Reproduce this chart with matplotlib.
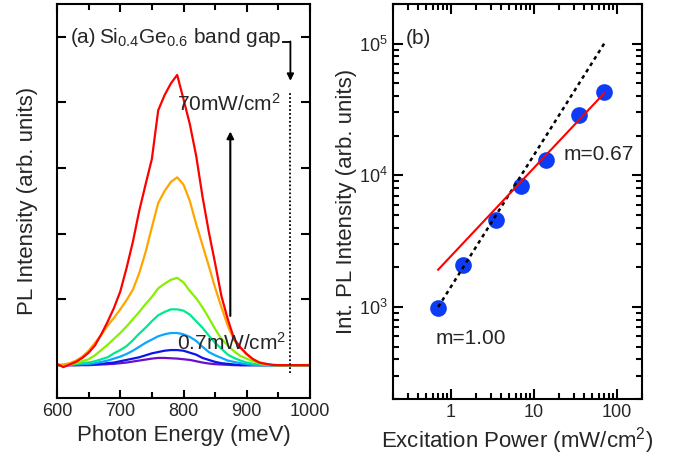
import matplotlib
matplotlib.use('Agg')
import matplotlib.pyplot as plt
from matplotlib.ticker import MultipleLocator, FormatStrFormatter, NullFormatter, LogLocator
import numpy as np

plt.rcParams['font.family'] = ['Liberation Sans', 'DejaVu Sans']
plt.rcParams['mathtext.fontset'] = 'custom'
plt.rcParams['mathtext.rm'] = 'Liberation Sans'
plt.rcParams['mathtext.it'] = 'Liberation Sans'
TXT = '#262626'

# ----------------- (a) PL spectra -----------------
energy = list(range(600, 1001, 10))  # meV

pl_70 = [0.02, -0.03, 0.01, 0.05, 0.11, 0.19, 0.30, 0.47, 0.66, 0.87,
         1.12, 1.48, 1.88, 2.35, 2.75, 3.14, 3.88, 4.11, 4.29, 4.42,
         4.05, 3.67, 3.19, 2.57, 2.03, 1.55, 1.05, 0.70, 0.40, 0.27,
         0.17, 0.09, 0.04, 0.02, 0.005, 0, 0, 0, 0, 0, 0]
pl_35 = [0.0, 0.01, 0.03, 0.07, 0.13, 0.22, 0.34, 0.46, 0.60, 0.72,
         0.85, 0.99, 1.15, 1.40, 1.72, 2.10, 2.47, 2.65, 2.79, 2.86,
         2.75, 2.50, 2.15, 1.83, 1.51, 1.18, 0.88, 0.60, 0.38, 0.26,
         0.16, 0.09, 0.04, 0.02, 0.005, 0, 0, 0, 0, 0, 0]
pl_14 = [0.0, 0.005, 0.01, 0.03, 0.06, 0.09, 0.15, 0.23, 0.31, 0.40,
         0.49, 0.59, 0.70, 0.81, 0.93, 1.04, 1.17, 1.24, 1.30, 1.33,
         1.26, 1.13, 1.02, 0.88, 0.72, 0.55, 0.40, 0.30, 0.21, 0.14,
         0.10, 0.06, 0.03, 0.01, 0, 0, 0, 0, 0, 0, 0]
pl_7 = [0.0, 0.0, 0.01, 0.02, 0.03, 0.04, 0.06, 0.09, 0.12, 0.18,
        0.23, 0.29, 0.38, 0.48, 0.57, 0.67, 0.76, 0.81, 0.85, 0.85,
        0.83, 0.77, 0.67, 0.57, 0.45, 0.34, 0.25, 0.16, 0.11, 0.07,
        0.04, 0.02, 0.01, 0, 0, 0, 0, 0, 0, 0, 0]
pl_3p5 = [0.0, 0.0, 0.005, 0.01, 0.015, 0.02, 0.03, 0.05, 0.07, 0.10,
          0.13, 0.17, 0.22, 0.28, 0.34, 0.39, 0.44, 0.47, 0.49, 0.49,
          0.47, 0.43, 0.37, 0.28, 0.20, 0.15, 0.11, 0.07, 0.05, 0.03,
          0.015, 0.005, 0, 0, 0, 0, 0, 0, 0, 0, 0]
pl_1p4 = [0.0, 0.0, 0.0, 0.0, 0.005, 0.01, 0.015, 0.02, 0.03, 0.04,
          0.06, 0.08, 0.10, 0.12, 0.15, 0.18, 0.20, 0.22, 0.23, 0.23,
          0.22, 0.19, 0.16, 0.11, 0.08, 0.05, 0.03, 0.02, 0.01, 0,
          0, 0, 0, 0, 0, 0, 0, 0, 0, 0, 0]
pl_0p7 = [0.0, 0.0, 0.0, 0.0, 0.0, 0.0, 0.005, 0.01, 0.015, 0.02,
          0.03, 0.04, 0.055, 0.07, 0.085, 0.10, 0.11, 0.11, 0.105, 0.10,
          0.09, 0.08, 0.06, 0.04, 0.025, 0.015, 0.01, 0.005, 0, 0,
          0, 0, 0, 0, 0, 0, 0, 0, 0, 0, 0]

spectra = [pl_0p7, pl_1p4, pl_3p5, pl_7, pl_14, pl_35, pl_70]
colors = ['#6a0fcc', '#0a14ee', '#0aa6ff', '#00e88e', '#86f000', '#ffa500', '#ff0000']

band_gap = 969  # meV

# ----------------- (b) integrated PL -----------------
power = [0.7, 1.4, 3.5, 7, 14, 35, 70]               # mW/cm^2
int_pl = [980, 2100, 4600, 8300, 13000, 28500, 43000]
fit_lo = [0.7, 70]
fit1 = [1000, 100000]     # m = 1.00
fit067 = [1920, 42000]    # m = 0.67

fig = plt.figure(figsize=(6.76, 4.59), dpi=100)
ax1 = fig.add_axes([0.0843, 0.1329, 0.3743, 0.8584])
ax2 = fig.add_axes([0.5814, 0.1307, 0.3683, 0.8606])

for ax in (ax1, ax2):
    for s in ax.spines.values():
        s.set_linewidth(1.5)

# panel (a)
for y, c in zip(spectra, colors):
    ax1.plot(energy, y, color=c, lw=1.6)

ax1.plot([band_gap, band_gap], [-0.12, 4.16], color='black', lw=1.3, ls=(0, (1, 1.2)))
ax1.annotate('', xy=(874, 3.56), xytext=(874, 0.75),
             arrowprops=dict(arrowstyle='-|>', color='black', lw=1.5,
                             mutation_scale=10, shrinkA=0, shrinkB=0))
ax1.plot([957, band_gap], [4.92, 4.92], color='black', lw=1.3)
ax1.annotate('', xy=(band_gap, 4.33), xytext=(band_gap, 4.93),
             arrowprops=dict(arrowstyle='-|>', color='black', lw=1.3,
                             mutation_scale=10, shrinkA=0, shrinkB=0))

ax1.text(622, 4.90, '(a)', fontsize=15, color=TXT, va='baseline')
ax1.text(667, 4.90, r'Si$_{0.4}$Ge$_{0.6}$ band gap', fontsize=15, color=TXT, va='baseline')
ax1.text(790, 3.87, r'70mW/cm$^2$', fontsize=15, color=TXT, va='baseline')
ax1.text(790, 0.24, r'0.7mW/cm$^2$', fontsize=15, color=TXT, va='baseline')

ax1.set_xlim(600, 1000)
ax1.set_ylim(-0.5, 5.5)
ax1.xaxis.set_major_locator(MultipleLocator(100))
ax1.xaxis.set_minor_locator(MultipleLocator(50))
ax1.yaxis.set_major_locator(MultipleLocator(1))
ax1.yaxis.set_major_formatter(NullFormatter())
ax1.tick_params(which='both', direction='in', top=True, right=True,
                width=1.5, labelsize=13, labelcolor=TXT)
ax1.tick_params(axis='x', which='major', length=5.5)
ax1.tick_params(axis='x', which='minor', length=4)
ax1.tick_params(axis='y', which='major', length=6.5)
ax1.set_xlabel('Photon Energy (meV)', fontsize=16, color=TXT, labelpad=4)
ax1.set_ylabel('PL Intensity (arb. units)', fontsize=16, color=TXT, labelpad=10)

# panel (b)
ax2.plot(power, int_pl, 'o', color='#0d3cf7', ms=12, mec='none', zorder=2)
ax2.plot(fit_lo, fit1, color='black', lw=1.8, ls=(0, (1.5, 1.5)), zorder=3)
ax2.plot(fit_lo, fit067, color='red', lw=1.5, zorder=3)

ax2.set_xscale('log')
ax2.set_yscale('log')
ax2.set_xlim(0.2, 200)
ax2.set_ylim(200, 2e5)
ax2.xaxis.set_major_formatter(FormatStrFormatter('%g'))
ax2.yaxis.set_minor_locator(LogLocator(base=10, subs=np.arange(2, 10)))
ax2.yaxis.set_minor_formatter(NullFormatter())
ax2.tick_params(which='both', direction='in', top=True, right=True,
                width=1.5, labelsize=13, labelcolor=TXT)
ax2.tick_params(which='major', length=7)
ax2.tick_params(which='minor', length=4)

ax2.text(0.285, 1.0e5, '(b)', fontsize=15, color=TXT, va='baseline')
ax2.text(22.5, 13000, 'm=0.67', fontsize=15, color=TXT, va='baseline')
ax2.text(0.65, 525, 'm=1.00', fontsize=15, color=TXT, va='baseline')

ax2.set_xlabel(r'Excitation Power (mW/cm$^2$)', fontsize=16, color=TXT, labelpad=3)
ax2.set_ylabel('Int. PL Intensity (arb. units)', fontsize=16, color=TXT, labelpad=2)

plt.savefig('out.png', dpi=100)
plt.close()
